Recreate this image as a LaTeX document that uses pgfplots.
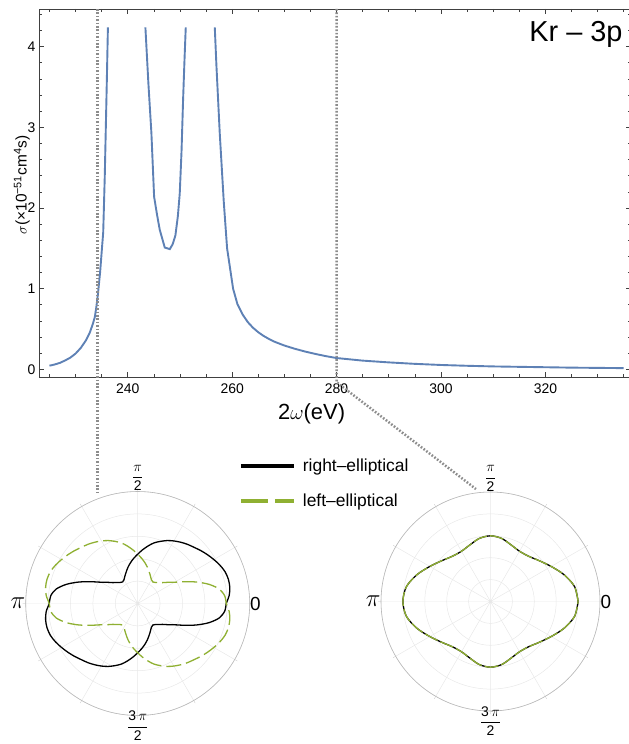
\documentclass[border=0pt]{standalone}
\usepackage{fontspec}
\setmainfont{Liberation Sans}
\usepackage{amsmath}
\usepackage{pgfplots}
\pgfplotsset{compat=1.18}
\usepgfplotslibrary{polar}
\definecolor{mblue}{HTML}{5E81B5}
\definecolor{mgreen}{HTML}{8FB032}
\newcommand{\fs}[1]{\fontsize{#1}{#1}\selectfont}

\begin{document}
\begin{tikzpicture}
\useasboundingbox (0,0) rectangle (629bp,744bp);
\pgfplotsset{
  polstyle/.style={
    scale only axis, width=224bp, height=224bp, ymin=0, ymax=1,
    xtick={0,30,...,330}, ytick={0.2,0.4,0.6,0.8,1}, yticklabels={},
    grid=major, major grid style={gray!18, line width=0.5bp},
    axis line style={gray!55, line width=0.6bp},
    y axis line style={draw=none},
    xtick style={gray!55}, ytick style={draw=none}, major tick length=3bp,
    xticklabels={{\fs{19}0},,,{\fs{14}$\displaystyle\frac{\pi}{\mbox{2}}$},,,{\fs{28}$\pi$},,,{\fs{14}\raisebox{5bp}[\height][\depth]{$\displaystyle\frac{\mbox{3}\,\pi}{\mbox{2}}$}},,},
    xticklabel style={inner sep=0.3bp},
  }
}

% cross section
\begin{axis}[
  at={(39bp,367bp)}, anchor=south west, scale only axis, width=592bp, height=368bp,
  xmin=223, xmax=336.4, ymin=-0.095, ymax=4.467,
  xtick={220,240,...,340}, minor x tick num=3,
  ytick={-1,0,...,5}, minor y tick num=4,
  tick align=inside, major tick length=5bp, minor tick length=3bp,
  axis line style={black!75, line width=0.9bp},
  tick style={black!75, line width=0.6bp},
  ticklabel style={font=\fs{14}},
  xticklabel style={yshift=-3bp},
  /pgf/number format/assume math mode=true,
  xlabel={2$\omega$(eV)},
  xlabel style={font=\fs{22}, at={(axis description cs:0.4605,-0.099)}, anchor=center},
  ylabel={$\sigma$(×10\textsuperscript{−51}cm\textsuperscript{4}s)},
  ylabel style={font=\fs{15.5}, at={(axis description cs:-0.029,0.522)}, anchor=center},
  clip=false,
  legend style={at={(axis description cs:0.3373,-0.2886)}, anchor=west, draw=none,
    fill=none, inner sep=0pt, row sep=15bp, font=\fs{17.5}, nodes={inner sep=3bp}},
  legend cell align=left,
  legend image code/.code={\draw[#1] (0,0) -- (53bp,0); \path (57bp,0);},
]
\addplot[mblue, line width=1.9bp, forget plot] coordinates {
  (225,0.045) (226,0.06) (227,0.08) (228,0.11) (229,0.145) (230,0.195)
  (231,0.265) (232,0.36) (232.7,0.45) (233.3,0.56) (233.7,0.65) (234.0,0.78)
  (234.3,0.94) (234.7,1.2) (235.0,1.45) (235.3,1.7) (235.6,2.4) (235.8,3.0)
  (236.0,3.6) (236.2,4.24)
};
\addplot[mblue, line width=1.9bp, forget plot] coordinates {
  (243.38,4.24) (243.95,3.55) (244.53,2.93) (245.05,2.14) (245.6,1.92)
  (246.13,1.73) (247.09,1.51) (248.05,1.49) (248.6,1.55) (249.13,1.66)
  (249.6,1.9) (249.96,2.18) (250.3,2.7) (250.6,3.34) (250.85,3.8) (251.11,4.24)
};
\addplot[mblue, line width=1.9bp, forget plot] coordinates {
  (256.67,4.24) (256.99,3.76) (257.62,2.93) (258.39,2.08) (259.03,1.5)
  (260.18,1.0) (261,0.81) (262,0.68) (263,0.585) (264,0.515) (265,0.46)
  (266,0.415) (267,0.378) (268,0.345) (270,0.295) (272,0.255) (274,0.22)
  (276,0.19) (278,0.163) (280,0.14) (285,0.108) (290,0.086) (295,0.068)
  (300,0.054) (305,0.044) (310,0.036) (315,0.031) (320,0.026) (325,0.021)
  (330,0.018) (335,0.015)
};
\draw[black!45, line width=2.5bp, dash pattern=on 1.7bp off 1.7bp]
  (axis cs:234.2,4.467) -- (axis cs:234.2,-1.56);
\draw[black!45, line width=2.5bp, dash pattern=on 1.7bp off 1.7bp]
  (axis cs:280,4.467) -- (axis cs:280,-0.16) -- (axis cs:306.7,-1.484);
\node[anchor=base east, font=\fs{29}] at (axis description cs:0.9916,0.911) {Kr – 3p};
\addlegendimage{black, line width=4bp}
\addlegendentry{right–elliptical}
\addlegendimage{mgreen, line width=4bp, dash pattern=on 27bp off 7bp}
\addlegendentry{left–elliptical}
\end{axis}

% left polar: 234 eV
\begin{polaraxis}[polstyle, at={(137.7bp,140.5bp)}, anchor=center]
\addplot[black, line width=1.3bp, smooth] coordinates {
  (0,0.79) (5,0.82) (10,0.835) (15,0.838) (20,0.83) (25,0.81) (30,0.785)
  (35,0.76) (40,0.735) (45,0.71) (50,0.69) (55,0.668) (60,0.645) (65,0.62)
  (70,0.59) (75,0.56) (80,0.52) (85,0.48) (90,0.44) (95,0.405) (100,0.37)
  (105,0.335) (110,0.30) (115,0.27) (120,0.245) (125,0.235) (130,0.245)
  (135,0.265) (140,0.29) (145,0.33) (150,0.38) (155,0.46) (160,0.56)
  (165,0.66) (170,0.74) (175,0.78)
  (180,0.79) (185,0.82) (190,0.835) (195,0.838) (200,0.83) (205,0.81) (210,0.785)
  (215,0.76) (220,0.735) (225,0.71) (230,0.69) (235,0.668) (240,0.645) (245,0.62)
  (250,0.59) (255,0.56) (260,0.52) (265,0.48) (270,0.44) (275,0.405) (280,0.37)
  (285,0.335) (290,0.30) (295,0.27) (300,0.245) (305,0.235) (310,0.245)
  (315,0.265) (320,0.29) (325,0.33) (330,0.38) (335,0.46) (340,0.56)
  (345,0.66) (350,0.74) (355,0.78) (360,0.79)
};
\addplot[mgreen, line width=1.3bp, smooth, dash pattern=on 15bp off 5bp] coordinates {
  (0,0.79) (5,0.78) (10,0.74) (15,0.66) (20,0.56) (25,0.46) (30,0.38)
  (35,0.33) (40,0.29) (45,0.265) (50,0.245) (55,0.235) (60,0.245) (65,0.27)
  (70,0.30) (75,0.335) (80,0.37) (85,0.405) (90,0.44) (95,0.48) (100,0.52)
  (105,0.56) (110,0.59) (115,0.62) (120,0.645) (125,0.668) (130,0.69)
  (135,0.71) (140,0.735) (145,0.76) (150,0.785) (155,0.81) (160,0.83)
  (165,0.838) (170,0.835) (175,0.82)
  (180,0.79) (185,0.78) (190,0.74) (195,0.66) (200,0.56) (205,0.46) (210,0.38)
  (215,0.33) (220,0.29) (225,0.265) (230,0.245) (235,0.235) (240,0.245) (245,0.27)
  (250,0.30) (255,0.335) (260,0.37) (265,0.405) (270,0.44) (275,0.48) (280,0.52)
  (285,0.56) (290,0.59) (295,0.62) (300,0.645) (305,0.668) (310,0.69)
  (315,0.71) (320,0.735) (325,0.76) (330,0.785) (335,0.81) (340,0.83)
  (345,0.838) (350,0.835) (355,0.82) (360,0.79)
};
\end{polaraxis}

% right polar: 280 eV
\begin{polaraxis}[polstyle, width=219bp, height=219bp, at={(490.5bp,142.5bp)}, anchor=center]
\addplot[black, line width=1.3bp, smooth] coordinates {
  (0,0.80) (10,0.78) (20,0.715) (30,0.64) (40,0.58) (50,0.54) (60,0.53)
  (70,0.55) (80,0.585) (90,0.60) (100,0.585) (110,0.55) (120,0.53) (130,0.54)
  (140,0.58) (150,0.64) (160,0.715) (170,0.78) (180,0.80) (190,0.78) (200,0.715)
  (210,0.64) (220,0.58) (230,0.54) (240,0.53) (250,0.55) (260,0.585) (270,0.60)
  (280,0.585) (290,0.55) (300,0.53) (310,0.54) (320,0.58) (330,0.64) (340,0.715)
  (350,0.78) (360,0.80)
};
\addplot[mgreen, line width=1.3bp, smooth, dash pattern=on 14bp off 3bp] coordinates {
  (0,0.80) (10,0.78) (20,0.715) (30,0.64) (40,0.58) (50,0.54) (60,0.53)
  (70,0.55) (80,0.585) (90,0.60) (100,0.585) (110,0.55) (120,0.53) (130,0.54)
  (140,0.58) (150,0.64) (160,0.715) (170,0.78) (180,0.80) (190,0.78) (200,0.715)
  (210,0.64) (220,0.58) (230,0.54) (240,0.53) (250,0.55) (260,0.585) (270,0.60)
  (280,0.585) (290,0.55) (300,0.53) (310,0.54) (320,0.58) (330,0.64) (340,0.715)
  (350,0.78) (360,0.80)
};
\end{polaraxis}
\end{tikzpicture}
\end{document}
